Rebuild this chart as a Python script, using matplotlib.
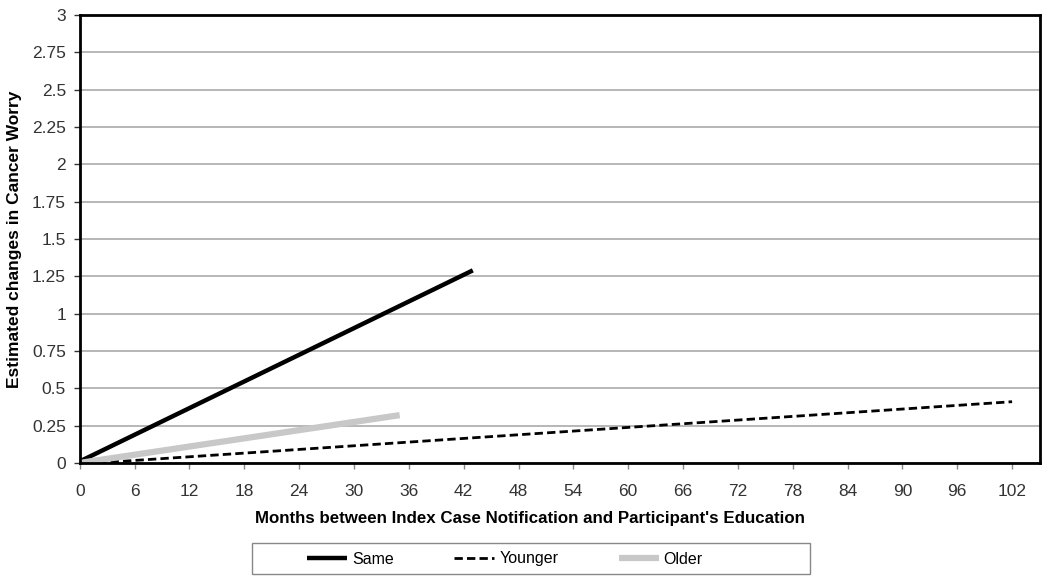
import numpy as np
import matplotlib.pyplot as plt
from matplotlib.patches import Rectangle

plt.rcParams['font.family'] = ['Liberation Sans', 'DejaVu Sans']

# Endpoints of the estimated lines (months, change in worry)
same_x = [0, 43]
same_y = [0.01, 1.29]
younger_x = [2, 102]
younger_y = [0.0, 0.41]
older_x = [0, 35]
older_y = [0.0, 0.32]

x_ticks = list(range(0, 103, 6))
y_ticks = [0, 0.25, 0.5, 0.75, 1, 1.25, 1.5, 1.75, 2, 2.25, 2.5, 2.75, 3]
y_labels = ['0', '0.25', '0.5', '0.75', '1', '1.25', '1.5', '1.75', '2', '2.25', '2.5', '2.75', '3']

fig = plt.figure(figsize=(10.5, 5.83), dpi=100)
ax = fig.add_axes([0.076, 0.206, 0.914, 0.768])

ax.plot(same_x, same_y, color='black', lw=3.2, solid_capstyle='butt', label='Same')
ax.plot(younger_x, younger_y, color='black', lw=2, ls=(0, (3, 1.5)), label='Younger')
ax.plot(older_x, older_y, color='#c8c8c8', lw=4.5, solid_capstyle='butt', label='Older')

ax.set_xlim(0, 105)
ax.set_ylim(0, 3)
ax.set_xticks(x_ticks)
ax.set_yticks(y_ticks)
ax.set_yticklabels(y_labels)
ax.tick_params(labelsize=12.5, colors='#333333', length=4, width=1, pad=6)
ax.tick_params(axis='x', color='#888888', pad=11)
ax.grid(axis='y', color='#aaaaaa', lw=1.2)
ax.set_axisbelow(True)
for s in ax.spines.values():
    s.set_color('black')
    s.set_linewidth(2)

ax.set_xlabel("Months between Index Case Notification and Participant's Education",
              fontsize=12.2, fontweight='bold')
ax.xaxis.set_label_coords(0.469, -0.107)
ax.set_ylabel("Estimated changes in Cancer Worry", fontsize=12.5, fontweight='bold', labelpad=7)

# legend box drawn separately (items sit left of centre in the original)
fig.patches.append(Rectangle((252 / 1050, 9 / 583), 558 / 1050, 31 / 583,
                             transform=fig.transFigure, facecolor='white',
                             edgecolor='#888888', lw=1))
leg = fig.legend(loc='center', bbox_to_anchor=(505 / 1050, 24 / 583), ncol=3, fontsize=11.5,
                 frameon=False, handlelength=2.5, handletextpad=0.3, columnspacing=3.8,
                 borderpad=0, borderaxespad=0)

fig.savefig('out.png', dpi=100)
